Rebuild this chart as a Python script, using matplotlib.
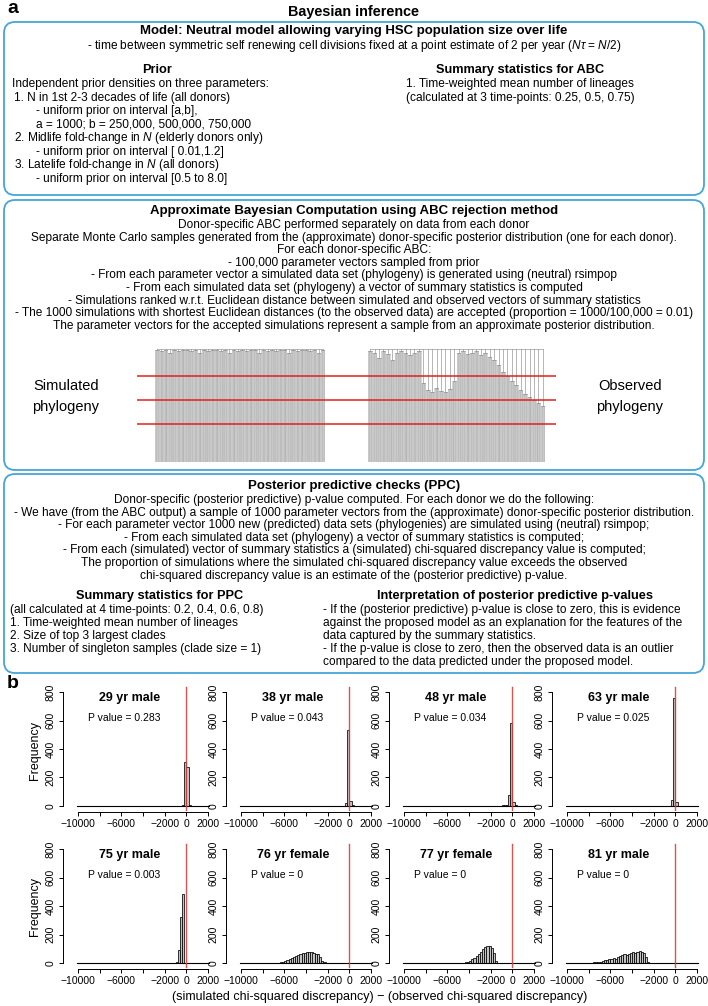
import matplotlib
matplotlib.use("Agg")
import matplotlib.pyplot as plt
from matplotlib.patches import FancyBboxPatch, Rectangle
import numpy as np

# ---------------- data ----------------
panel_titles = ["29 yr male", "38 yr male", "48 yr male", "63 yr male",
                "75 yr male", "76 yr female", "77 yr female", "81 yr male"]
p_values = ["0.283", "0.043", "0.034", "0.025", "0.003", "0", "0", "0"]
bin_width = 200
bin_starts = [-600, -600, -1800, -800, -1200, -6600, -5200, -8000]
counts_29 = [3, 5, 310, 275, 5, 2]
counts_38 = [3, 20, 530, 35, 8, 3]
counts_48 = [2, 2, 3, 3, 4, 6, 10, 75, 580, 30, 5]
counts_63 = [2, 3, 45, 760, 25, 3]
counts_75 = [2, 5, 90, 325, 485, 3]
counts_76 = [2, 4, 8, 12, 18, 25, 35, 45, 50, 55, 62, 68, 72, 78, 80, 75, 68, 66, 62, 40, 15, 5]
counts_77 = [2, 0, 0, 0, 5, 10, 15, 25, 35, 50, 65, 80, 100, 115, 120, 118, 105, 70, 15, 2]
counts_81 = [2, 3, 5, 5, 8, 10, 15, 20, 22, 25, 30, 35, 30, 42, 50, 55, 60, 55, 65, 72, 75, 70, 80, 82, 78, 72, 40, 10, 2]
all_counts = [counts_29, counts_38, counts_48, counts_63, counts_75, counts_76, counts_77, counts_81]
x_ticks = [-10000, -8000, -6000, -4000, -2000, 0, 2000]
x_ticklabels = ["\u221210000", "", "\u22126000", "", "\u22122000", "0", "2000"]
y_ticks = [0, 200, 400, 600, 800]

# decorative phylogeny: clade top heights (fraction of height), left to right
obs_clade_tops = [0.98, 0.97, 0.92, 0.98, 0.96, 0.90, 0.97, 0.98, 0.97, 0.95,
                  0.97, 0.98, 0.70, 0.64, 0.62, 0.66, 0.63, 0.62, 0.65, 0.72,
                  0.97, 0.98, 0.96, 0.97, 0.98, 0.95, 0.97, 0.93, 0.90, 0.86,
                  0.80, 0.76, 0.72, 0.68, 0.64, 0.60, 0.58, 0.55, 0.52, 0.50]
sim_clade_tops = [0.99, 0.98, 0.99, 0.97, 0.99, 0.98, 0.99, 0.99, 0.98, 0.99,
                  0.97, 0.99, 0.98, 0.99, 0.99, 0.98, 0.99, 0.97, 0.99, 0.98,
                  0.99, 0.98, 0.99, 0.99, 0.97, 0.99, 0.98, 0.99, 0.98, 0.99,
                  0.99, 0.97, 0.99, 0.98, 0.99, 0.99, 0.98, 0.99, 0.97, 0.99]
red_line_levels = [0.755, 0.545, 0.335]

plt.rcParams["font.family"] = ["Liberation Sans", "DejaVu Sans"]
plt.rcParams["mathtext.fontset"] = "custom"
plt.rcParams["mathtext.rm"] = "Liberation Sans"
plt.rcParams["mathtext.it"] = "Liberation Sans:italic"
plt.rcParams["mathtext.bf"] = "Liberation Sans:bold"

W, H = 708, 1006
fig = plt.figure(figsize=(W / 100, H / 100), dpi=100)
bg = fig.add_axes([0, 0, 1, 1])
bg.set_xlim(0, W)
bg.set_ylim(H, 0)
bg.axis("off")

BODY = 8.6
HEAD = 9.5
SUB = 9.2
BOX_C = "#45a6d6"


def t(x, y, s, size=BODY, bold=False, ha="center", **kw):
    bg.text(x, y, s, fontsize=size, fontweight="bold" if bold else "normal",
            ha=ha, va="center", **kw)


def box(y0, y1):
    bg.add_patch(FancyBboxPatch((4, y0), 700, y1 - y0,
                                boxstyle="round,pad=0,rounding_size=11",
                                fc="none", ec=BOX_C, lw=1.3))


bg.text(7, 8, "a", fontsize=14, fontweight="bold", va="center", ha="left")
bg.text(7, 684, "b", fontsize=14, fontweight="bold", va="center", ha="left")
t(354, 12, "Bayesian inference", size=10.4, bold=True)

# box 1
box(22, 195)
t(354, 31, "Model: Neutral model allowing varying HSC population size over life", size=HEAD, bold=True)
t(354, 46, r"- time between symmetric self renewing cell divisions fixed at a point estimate of 2 per year ($N\tau$ = $N$/2)")
t(157, 70, "Prior", size=SUB, bold=True)
prior_lines = [
    (12, "Independent prior densities on three parameters:"),
    (14, "1. N in 1st 2-3 decades of life (all donors)"),
    (36, "- uniform prior on interval [a,b],"),
    (36, "a = 1000; b = 250,000, 500,000, 750,000"),
    (14, "2. Midlife fold-change in $N$ (elderly donors only)"),
    (36, "- uniform prior on interval [ 0.01,1.2]"),
    (14, "3. Latelife fold-change in $N$ (all donors)"),
    (36, "- uniform prior on interval [0.5 to 8.0]"),
]
for i, (x, s) in enumerate(prior_lines):
    t(x, 84 + 13.5 * i, s, ha="left")
t(520, 70, "Summary statistics for ABC", size=SUB, bold=True)
t(520, 84, "1. Time-weighted mean number of lineages")
t(520, 97.5, "(calculated at 3 time-points: 0.25, 0.5, 0.75)")

# box 2
box(200, 470)
t(354, 211, "Approximate Bayesian Computation using ABC rejection method", size=HEAD, bold=True)
abc_lines = [
    "Donor-specific ABC performed separately on data from each donor",
    "Separate Monte Carlo samples generated from the (approximate) donor-specific posterior distribution (one for each donor).",
    "For each donor-specific ABC:",
    "- 100,000 parameter vectors sampled from prior",
    "- From each parameter vector a simulated data set (phylogeny) is generated using (neutral) rsimpop",
    "- From each simulated data set (phylogeny) a vector of summary statistics is computed",
    "- Simulations ranked w.r.t. Euclidean distance between simulated and observed vectors of summary statistics",
    "- The 1000 simulations with shortest Euclidean distances (to the observed data) are accepted (proportion = 1000/100,000 = 0.01)",
    "The parameter vectors for the accepted simulations represent a sample from an approximate posterior distribution.",
]
for i, s in enumerate(abc_lines):
    t(354, 225 + 12.6 * i, s)
t(66, 386, "Simulated", size=10.5)
t(66, 407, "phylogeny", size=10.5)
t(630, 386, "Observed", size=10.5)
t(630, 407, "phylogeny", size=10.5)


def phylo(ax, tops, tips_per_clade=5):
    n = len(tops)
    ax.plot([0.5 / n, 1 - 0.5 / n], [1.0, 1.0], color="#9a9a9a", lw=0.5)
    for ci, top in enumerate(tops):
        x0, x1 = ci / n, (ci + 1) / n
        xs = np.linspace(x0, x1, tips_per_clade, endpoint=False) + 0.5 / (n * tips_per_clade)
        ax.add_patch(Rectangle((x0, 0), 1 / n, top, fc="#d9d9d9", ec="none"))
        for j, x in enumerate(xs):
            ax.plot([x, x], [0, top], color="#a9a9a9" if j % 2 else "#bdbdbd", lw=0.4)
        ax.plot([xs[0], xs[-1]], [top, top], color="#8f8f8f", lw=0.45)
        xc = (xs[0] + xs[-1]) / 2
        ax.plot([xc, xc], [top, 1.0], color="#8f8f8f", lw=0.45)
    ax.set_xlim(0, 1)
    ax.set_ylim(0, 1.01)
    ax.axis("off")


ax_sim = fig.add_axes([155 / W, 1 - 462 / H, 170 / W, 114 / H])
phylo(ax_sim, sim_clade_tops)
ax_obs = fig.add_axes([368 / W, 1 - 462 / H, 177 / W, 114 / H])
phylo(ax_obs, obs_clade_tops)
ax_red = fig.add_axes([137 / W, 1 - 462 / H, 419 / W, 114 / H])
ax_red.set_xlim(0, 1)
ax_red.set_ylim(0, 1)
ax_red.axis("off")
ax_red.patch.set_alpha(0)
for lv in red_line_levels:
    ax_red.plot([0, 1], [lv, lv], color="#e02020", lw=1.1)

# box 3
box(474, 673)
t(354, 486, "Posterior predictive checks (PPC)", size=HEAD, bold=True)
ppc_lines = [
    "Donor-specific (posterior predictive) p-value computed. For each donor we do the following:",
    "- We have (from the ABC output) a sample of 1000 parameter vectors from the (approximate) donor-specific posterior distribution.",
    "- For each parameter vector 1000 new (predicted) data sets (phylogenies) are simulated using (neutral) rsimpop;",
    "- From each simulated data set (phylogeny) a vector of summary statistics is computed;",
    "- From each (simulated) vector of summary statistics a (simulated) chi-squared discrepancy value is computed;",
    "The proportion of simulations where the simulated chi-squared discrepancy value exceeds the observed",
    "chi-squared discrepancy value is an estimate of the (posterior predictive) p-value.",
]
for i, s in enumerate(ppc_lines):
    t(354, 500 + 12.6 * i, s)
t(160, 596, "Summary statistics for PPC", size=SUB, bold=True)
for i, s in enumerate(["(all calculated at 4 time-points: 0.2, 0.4, 0.6, 0.8)",
                       "1. Time-weighted mean number of lineages",
                       "2. Size of top 3 largest clades",
                       "3. Number of singleton samples (clade size = 1)"]):
    t(10, 610 + 13 * i, s, ha="left")
t(515, 596, "Interpretation of posterior predictive p-values", size=SUB, bold=True)
for i, s in enumerate(["- If the (posterior predictive) p-value is close to zero, this is evidence",
                       "against the proposed model as an explanation for the features of the",
                       "data captured by the summary statistics.",
                       "- If the p-value is close to zero, then the observed data is an outlier",
                       "compared to the data predicted under the proposed model."]):
    t(323, 610 + 13 * i, s, ha="left")

# ---------------- panel b histograms ----------------
sx = 130 / 12000
sy = 114 / 800
XL0, XL1 = -11600, 2600
YL0, YL1 = -60, 830
for idx in range(8):
    r, c = divmod(idx, 4)
    xm = 78 + 163 * c
    y0 = 806 + 157 * r
    left = xm + (XL0 + 10000) * sx
    right = xm + (XL1 + 10000) * sx
    top = y0 - YL1 * sy
    bot = y0 - YL0 * sy
    ax = fig.add_axes([left / W, 1 - bot / H, (right - left) / W, (bot - top) / H])
    ax.patch.set_alpha(0)
    ax.set_xlim(XL0, XL1)
    ax.set_ylim(YL0, YL1)
    cnt = np.array(all_counts[idx])
    edges = bin_starts[idx] + bin_width * np.arange(len(cnt))
    m = cnt > 0
    ax.bar(edges[m], cnt[m], width=bin_width, align="edge", facecolor="#c4c4c4",
           edgecolor="black", linewidth=0.55, zorder=2)
    ax.plot([-10100, 2100], [0, 0], color="black", lw=0.8, zorder=3)
    ax.plot([0, 0], [-25, 835], color="#d8413e", lw=1.0, alpha=0.9, zorder=4, clip_on=False)
    for s in ["top", "right"]:
        ax.spines[s].set_visible(False)
    ax.spines["left"].set_position(("data", -11400))
    ax.spines["bottom"].set_position(("data", -45))
    ax.spines["left"].set_bounds(0, 800)
    ax.spines["bottom"].set_bounds(-10000, 2000)
    for s in ["left", "bottom"]:
        ax.spines[s].set_linewidth(0.7)
    ax.set_xticks(x_ticks)
    ax.set_xticklabels(x_ticklabels)
    ax.set_yticks(y_ticks)
    ax.set_yticklabels([str(v) for v in y_ticks], rotation=90, va="center")
    ax.tick_params(axis="both", labelsize=7.5, length=3, width=0.7, pad=2, color="black")
    ax.text(-5200, 758, panel_titles[idx], fontsize=9, fontweight="bold", ha="center", va="center")
    ax.text(-9100, 617, "P value = " + p_values[idx], fontsize=7.5, ha="left", va="center")

bg.text(35, 750, "Frequency", fontsize=9, rotation=90, ha="center", va="center")
bg.text(35, 907, "Frequency", fontsize=9, rotation=90, ha="center", va="center")
bg.text(380, 997, "(simulated chi-squared discrepancy) \u2212 (observed chi-squared discrepancy)",
        fontsize=9, ha="center", va="center")

fig.savefig("out.png", dpi=100)
